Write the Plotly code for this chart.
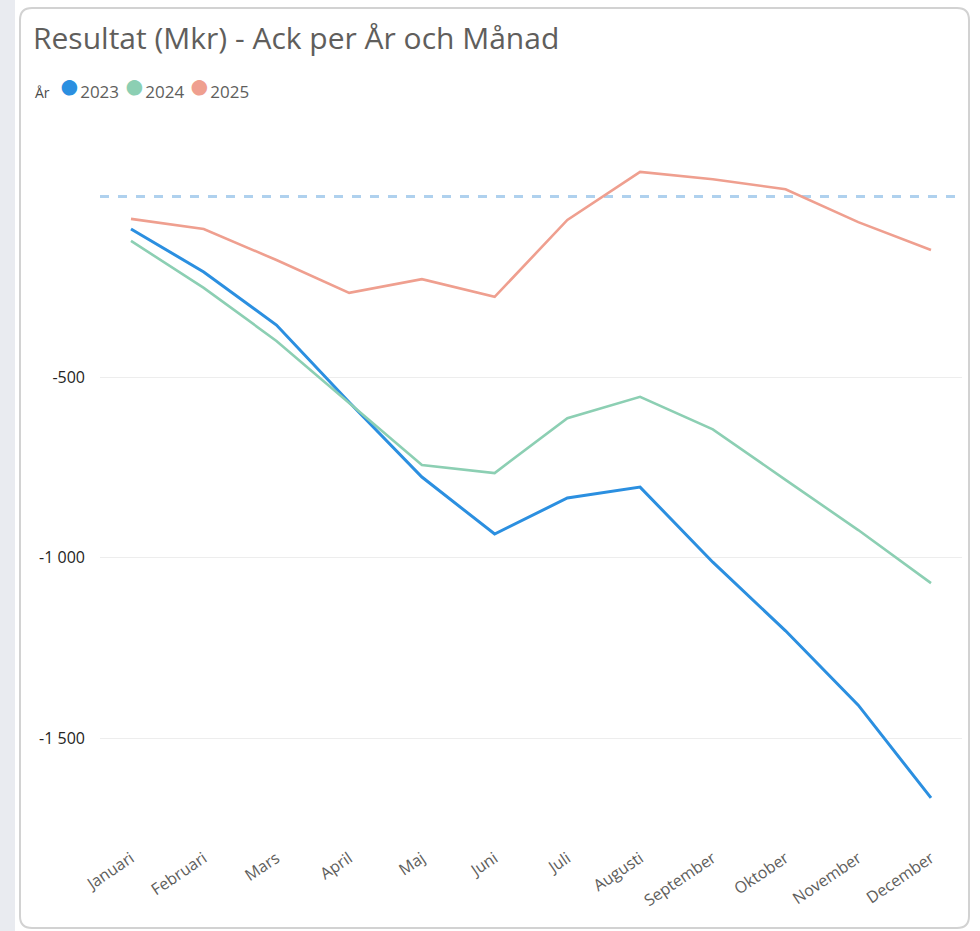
import plotly.graph_objects as go

months = ["Januari", "Februari", "Mars", "April", "Maj", "Juni", "Juli",
          "Augusti", "September", "Oktober", "November", "December"]
years = ["2023", "2024", "2025"]
res_2023 = [-90, -209, -356, -570, -777, -935, -835, -805, -1013, -1203, -1409, -1666]
res_2024 = [-123, -253, -400, -572, -744, -766, -614, -555, -645, -785, -924, -1071]
res_2025 = [-62, -90, -176, -267, -229, -278, -65, 68, 48, 20, -71, -148]
ref_value = 0
ytick_vals = [-500, -1000, -1500]
ytick_text = ["-500", "-1 000", "-1 500"]

series = [res_2023, res_2024, res_2025]
colors = ["#2B8FE0", "#8CCFB3", "#EF9F8F"]
widths = [3, 2.6, 2.6]

W, H = 980, 931
PL, PR, PT, PB = 100, 962, 140, 815  # plot area in px


def px_x(x):
    return (x - PL) / (PR - PL)


def px_y(y):
    return (PB - y) / (PB - PT)


fig = go.Figure()
for name, vals, col, w in zip(years, series, colors, widths):
    fig.add_trace(go.Scatter(x=months, y=vals, mode="lines", name=name,
                             line=dict(color=col, width=w), showlegend=False))

# card background with rounded corners
x0, x1, y0, y1, r = 20, 969, 8, 928, 12
path = (f"M {px_x(x0+r)} {px_y(y0)} L {px_x(x1-r)} {px_y(y0)} "
        f"Q {px_x(x1)} {px_y(y0)} {px_x(x1)} {px_y(y0+r)} "
        f"L {px_x(x1)} {px_y(y1-r)} Q {px_x(x1)} {px_y(y1)} {px_x(x1-r)} {px_y(y1)} "
        f"L {px_x(x0+r)} {px_y(y1)} Q {px_x(x0)} {px_y(y1)} {px_x(x0)} {px_y(y1-r)} "
        f"L {px_x(x0)} {px_y(y0+r)} Q {px_x(x0)} {px_y(y0)} {px_x(x0+r)} {px_y(y0)} Z")
shapes = [
    dict(type="rect", xref="paper", yref="paper", x0=px_x(0), x1=px_x(15),
         y0=px_y(H), y1=px_y(0), fillcolor="#E9EBF0", line=dict(width=0), layer="below"),
    dict(type="path", xref="paper", yref="paper", path=path, fillcolor="white",
         line=dict(color="#D2D2D2", width=2), layer="below"),
    dict(type="line", xref="paper", yref="y", x0=0, x1=1, y0=ref_value, y1=ref_value,
         line=dict(color="#AFD1EE", width=3, dash="dash"), layer="below"),
]

legend_text = '<span style="color:#4A4A4A;font-size:14px">År</span>  ' + " ".join(
    f'<span style="color:{c};font-size:36px">●</span><span style="color:#605E5C">{y}</span>'
    for y, c in zip(years, colors))
annotations = [dict(text=legend_text, xref="paper", yref="paper",
                    x=px_x(33), y=px_y(84), xanchor="left", yanchor="middle",
                    showarrow=False, font=dict(size=17, color="#605E5C"))]

fig.update_layout(
    width=W, height=H,
    margin=dict(l=PL, r=W - PR, t=PT, b=H - PB),
    paper_bgcolor="white", plot_bgcolor="rgba(0,0,0,0)",
    font=dict(family="Open Sans, Noto Sans, sans-serif", color="#252423"),
    title=dict(text="Resultat (Mkr) - Ack per År och Månad", xref="container",
               x=33 / W, xanchor="left", yref="container", y=1 - 38 / H,
               yanchor="middle", font=dict(size=30, color="#605E5C")),
    showlegend=False,
    annotations=annotations,
    shapes=shapes,
    xaxis=dict(type="category", categoryorder="array", categoryarray=months,
               range=[-(131 - PL) / 72.73, 11 + (PR - 931) / 72.73],
               tickangle=-34, tickfont=dict(size=16, color="#605E5C"),
               showgrid=False, zeroline=False, showline=False, ticks="",
               ticklabelstandoff=30),
    yaxis=dict(range=[-(PB - 196.5) * 2.77, (196.5 - PT) * 2.77],
               tickvals=ytick_vals, ticktext=ytick_text,
               tickfont=dict(size=16, color="#252423"),
               showgrid=True, gridcolor="#EDEDED", gridwidth=1,
               zeroline=False, showline=False, ticks="", ticklabelstandoff=14),
)

fig.write_html("out.html", config={"displayModeBar": False},
               post_script="document.body.style.margin='0';document.body.style.padding='0';")
